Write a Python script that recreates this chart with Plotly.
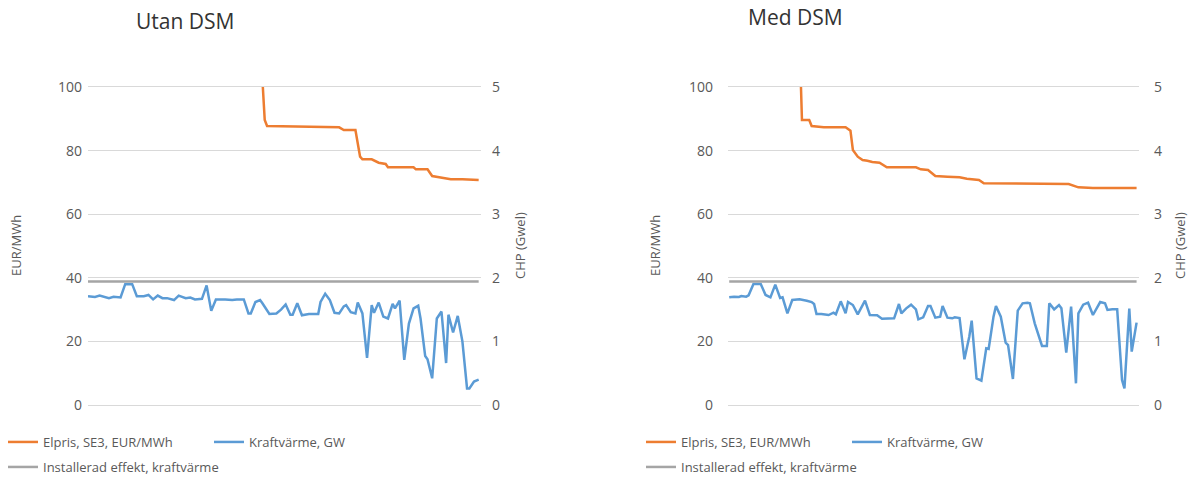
import plotly.graph_objects as go

W, H = 1190, 478

# ---------------- Data: "Utan DSM" (left) ----------------
utan_price_h = [0, 50, 74, 76, 77, 100, 103, 108, 110, 115, 117, 118, 122, 125, 128, 129,
                140, 141, 146, 148, 151, 156, 161, 168]
utan_price = [200, 130, 115, 89.62, 87.74, 87.53, 87.32, 87.32, 86.48, 86.48, 78.09, 77.25,
              77.25, 76.20, 75.79, 74.74, 74.74, 74.11, 74.11, 72.01, 71.59, 70.96, 70.96, 70.75]

utan_chp_h = [0, 3, 5, 9, 11, 14, 16, 19, 21, 24, 26, 28, 30, 32, 34, 37, 39, 42, 44, 46,
              49, 51, 53, 55, 59, 62, 64, 67, 69, 70, 72, 74, 75, 78, 81, 83, 85, 87, 88, 90,
              92, 95, 97, 99, 100, 102, 104, 106, 108, 110, 111, 113, 115, 116, 118, 120, 122,
              123, 125, 127, 129, 131, 132, 134, 136, 138, 140, 142, 143, 145, 146, 148, 150,
              152, 154, 155, 157, 159, 161, 163, 164, 166, 168]
utan_chp = [1.71, 1.70, 1.72, 1.68, 1.70, 1.69, 1.90, 1.90, 1.71, 1.71, 1.73, 1.66, 1.72, 1.68,
            1.68, 1.65, 1.72, 1.68, 1.69, 1.66, 1.67, 1.88, 1.48, 1.66, 1.66, 1.65, 1.66, 1.66,
            1.44, 1.44, 1.62, 1.65, 1.60, 1.43, 1.44, 1.50, 1.58, 1.42, 1.42, 1.60, 1.41, 1.43,
            1.43, 1.43, 1.62, 1.75, 1.65, 1.45, 1.44, 1.55, 1.57, 1.46, 1.44, 1.61, 1.44, 0.74,
            1.57, 1.45, 1.61, 1.39, 1.36, 1.59, 1.52, 1.64, 0.71, 1.28, 1.52, 1.56, 1.36, 0.77,
            0.72, 0.42, 1.36, 1.47, 0.66, 1.42, 1.14, 1.40, 1.00, 0.26, 0.26, 0.37, 0.40]

utan_cap_h = [0, 168]
utan_cap = [1.94, 1.94]

# ---------------- Data: "Med DSM" (right) ----------------
med_price_h = [0, 15, 29, 30, 33, 34, 39, 48, 50, 51, 53, 55, 57, 59, 62, 65, 77, 79, 82, 85,
               90, 95, 98, 103, 105, 117, 131, 140, 144, 150, 168]
med_price = [200, 130, 115, 89.62, 89.62, 87.74, 87.32, 87.32, 86.27, 80.19, 78.09, 77.04,
             76.83, 76.42, 76.20, 74.74, 74.74, 74.11, 73.90, 72.01, 71.80, 71.59, 71.17, 70.75,
             69.71, 69.71, 69.50, 69.50, 68.45, 68.24, 68.24]

med_chp_h = [0, 2, 4, 5, 7, 8, 10, 13, 15, 17, 19, 21, 22, 24, 26, 29, 32, 34, 35, 36, 38, 41,
             43, 44, 46, 48, 49, 51, 53, 55, 56, 58, 61, 63, 66, 68, 70, 71, 73, 75, 77, 78, 80,
             82, 83, 85, 87, 88, 90, 92, 93, 95, 97, 99, 100, 102, 104, 106, 107, 109, 110, 112,
             114, 115, 117, 119, 121, 123, 124, 126, 129, 131, 132, 134, 136, 137, 139, 141, 143,
             144, 146, 148, 150, 151, 153, 155, 156, 158, 160, 162, 163, 165, 166, 168]
med_chp = [1.693, 1.703, 1.698, 1.714, 1.703, 1.724, 1.903, 1.903, 1.730, 1.693, 1.892, 1.682,
           1.693, 1.441, 1.651, 1.661, 1.640, 1.619, 1.588, 1.431, 1.431, 1.415, 1.452, 1.426,
           1.630, 1.441, 1.619, 1.572, 1.426, 1.557, 1.640, 1.415, 1.410, 1.357, 1.363, 1.363,
           1.588, 1.441, 1.520, 1.578, 1.504, 1.347, 1.378, 1.557, 1.557, 1.373, 1.389, 1.557,
           1.373, 1.363, 1.378, 1.368, 0.718, 1.074, 1.326, 0.419, 0.383, 0.891, 0.881, 1.389,
           1.557, 1.389, 0.980, 0.943, 0.409, 1.483, 1.599, 1.609, 1.599, 1.284, 0.928, 0.928,
           1.599, 1.504, 1.572, 1.520, 0.823, 1.546, 0.341, 1.441, 1.578, 1.609, 1.415, 1.483,
           1.619, 1.599, 1.494, 1.504, 1.504, 0.393, 0.262, 1.515, 0.839, 1.295]

med_cap_h = [0, 168]
med_cap = [1.94, 1.94]

titles = ["Utan DSM", "Med DSM"]
price_name = "Elpris, SE3, EUR/MWh"
chp_name = "Kraftvärme, GW"
cap_name = "Installerad effekt, kraftvärme"
left_title = "EUR/MWh"
right_title = "CHP (Gwel)"

ORANGE = "#ED7D31"
BLUE = "#5B9BD5"
GRAY = "#A5A5A5"
GRID = "#D9D9D9"
TXT = "#595959"
FONT = "Open Sans"

fig = go.Figure()

# Left chart traces
fig.add_trace(go.Scatter(x=utan_price_h, y=utan_price, mode="lines", name=price_name,
                         line=dict(color=ORANGE, width=2.5), xaxis="x", yaxis="y", legend="legend"))
fig.add_trace(go.Scatter(x=utan_chp_h, y=utan_chp, mode="lines", name=chp_name,
                         line=dict(color=BLUE, width=2.5), xaxis="x", yaxis="y2", legend="legend"))
fig.add_trace(go.Scatter(x=utan_cap_h, y=utan_cap, mode="lines", name=cap_name,
                         line=dict(color=GRAY, width=2.5), xaxis="x", yaxis="y2", legend="legend2"))
# Right chart traces
fig.add_trace(go.Scatter(x=med_price_h, y=med_price, mode="lines", name=price_name,
                         line=dict(color=ORANGE, width=2.5), xaxis="x2", yaxis="y3", legend="legend3"))
fig.add_trace(go.Scatter(x=med_chp_h, y=med_chp, mode="lines", name=chp_name,
                         line=dict(color=BLUE, width=2.5), xaxis="x2", yaxis="y4", legend="legend3"))
fig.add_trace(go.Scatter(x=med_cap_h, y=med_cap, mode="lines", name=cap_name,
                         line=dict(color=GRAY, width=2.5), xaxis="x2", yaxis="y4", legend="legend4"))

# plot area: value 0 at y=405 px, value 100 at y=87 px
ydom = [(H - 405) / H, (H - 87) / H]
xdom_l = [88 / W, 481 / W]
xdom_r = [728 / W, 1139 / W]

# x axis lines (bottom + mirrored top) coincide with the 0 and 100 gridlines
xcommon = dict(showgrid=False, zeroline=False, showticklabels=False, showline=True,
               mirror=True, linecolor=GRID, linewidth=1, ticks="")
prim = dict(range=[0, 100], dtick=20, tick0=0, showgrid=True, gridcolor=GRID,
            gridwidth=1, zeroline=False, showline=False, ticks="",
            tickfont=dict(family=FONT, size=14, color=TXT), domain=ydom)
sec = dict(range=[0, 5], dtick=1, tick0=0, showgrid=False, zeroline=False,
           showline=False, ticks="", tickfont=dict(family=FONT, size=14, color=TXT),
           side="right", domain=ydom)

legend_common = dict(orientation="h", xanchor="left", yanchor="middle",
                     entrywidthmode="pixels", bgcolor="rgba(0,0,0,0)", itemwidth=30,
                     font=dict(family=FONT, size=13, color=TXT), traceorder="normal")

fig.update_layout(
    width=W, height=H, autosize=False,
    margin=dict(l=0, r=0, t=0, b=0, autoexpand=False),
    paper_bgcolor="white", plot_bgcolor="white",
    xaxis=dict(domain=xdom_l, range=[0, 169], anchor="y", **xcommon),
    xaxis2=dict(domain=xdom_r, range=[-0.5, 169], anchor="y3", **xcommon),
    yaxis=dict(anchor="x", ticklabelstandoff=5, **prim),
    yaxis2=dict(anchor="x", overlaying="y", ticklabelstandoff=10, **sec),
    yaxis3=dict(anchor="x2", ticklabelstandoff=14, **prim),
    yaxis4=dict(anchor="x2", overlaying="y3", ticklabelstandoff=14, **sec),
    legend=dict(x=3 / W, y=1 - 442 / H, entrywidth=161, **legend_common),
    legend2=dict(x=3 / W, y=1 - 467 / H, entrywidth=260, **legend_common),
    legend3=dict(x=641 / W, y=1 - 442 / H, entrywidth=161, **legend_common),
    legend4=dict(x=641 / W, y=1 - 467 / H, entrywidth=260, **legend_common),
    showlegend=True,
)

ann = []
ann.append(dict(text=titles[0], x=185 / W, y=1 - 21 / H, xref="paper", yref="paper",
                showarrow=False, font=dict(family=FONT, size=21, color="#333333"),
                xanchor="center", yanchor="middle"))
ann.append(dict(text=titles[1], x=795 / W, y=1 - 17 / H, xref="paper", yref="paper",
                showarrow=False, font=dict(family=FONT, size=21, color="#333333"),
                xanchor="center", yanchor="middle"))
for xpix, txt in [(16, left_title), (520, right_title), (655, left_title), (1180, right_title)]:
    ann.append(dict(text=txt, x=xpix / W, y=1 - 246 / H, xref="paper", yref="paper",
                    showarrow=False, textangle=-90,
                    font=dict(family=FONT, size=13, color=TXT),
                    xanchor="center", yanchor="middle"))
fig.update_layout(annotations=ann)

fig.write_html("out.html")
